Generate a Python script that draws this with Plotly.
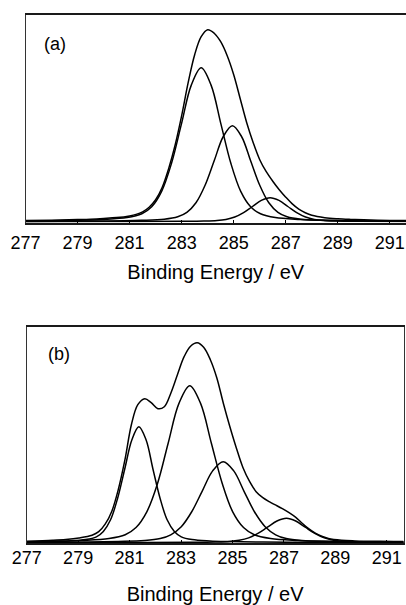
import plotly.graph_objects as go

# ---------------- Panel (a) ----------------
a_env_x = [277.0, 278.0, 279.0, 279.5, 280.0, 280.5,
           281.0, 281.25, 281.5, 281.75, 282.0, 282.25, 282.5, 282.75,
           283.0, 283.25, 283.5, 283.75, 284.0, 284.25, 284.5, 284.75,
           285.0, 285.25, 285.5, 285.75, 286.0, 286.25, 286.5, 286.75,
           287.0, 287.25, 287.5, 287.75, 288.0,
           288.5, 289.0, 289.5, 290.0, 291.0, 291.62]
a_env_y = [1.2, 1.5, 2.1, 2.5, 3.2, 4.1,
           5.8, 7.3, 9.9, 14.5, 22.0, 34.2, 53.1, 76.7,
           106.0, 139.0, 167.0, 185.0, 192.0, 188.5, 180.0, 166.0,
           147.0, 123.0, 99.0, 79.0, 62.0, 50.0, 40.5, 32.0,
           24.5, 17.8, 12.6, 9.0, 6.4,
           4.0, 2.9, 2.3, 1.9, 1.3, 1.2]

a_c1_x = [277.0, 279.0, 279.95, 280.9, 281.47, 281.85, 282.23, 282.61, 282.99, 283.37,
          283.75, 284.13, 284.51, 284.89, 285.27, 285.65, 286.03, 286.6, 287.55, 288.5,
          290.4, 291.62]
a_c1_y = [0.8, 1.5, 2.3, 4.1, 7.9, 14.9, 30.3, 58.4, 97.6, 136.6,
          154.0, 136.6, 97.6, 58.4, 30.3, 14.9, 7.9, 4.1, 2.3, 1.5,
          0.8, 0.6]

a_c2_x = [277.0, 279.7, 281.45, 282.33, 282.85, 283.2, 283.55, 283.9, 284.25, 284.6,
          284.95, 285.3, 285.65, 286.0, 286.35, 286.7, 287.05, 287.58, 288.45, 290.2,
          291.62]
a_c2_y = [0.3, 0.65, 1.4, 2.5, 4.9, 9.3, 18.9, 36.4, 60.9, 85.2,
          96.0, 85.2, 60.9, 36.4, 18.9, 9.3, 4.9, 2.5, 1.4, 0.65,
          0.4]

a_c3_x = [277.0, 281.3, 283.0, 283.85, 284.36, 284.7, 285.04, 285.38, 285.72, 286.06,
          286.4, 286.74, 287.08, 287.42, 287.76, 288.1, 288.44, 288.95, 289.8, 291.62]
a_c3_y = [0.05, 0.16, 0.35, 0.64, 1.2, 2.3, 4.7, 9.1, 15.2, 21.3,
          24.0, 21.3, 15.2, 9.1, 4.7, 2.3, 1.2, 0.64, 0.35, 0.16]

# ---------------- Panel (b) ----------------
b_env_x = [277.0, 278.01, 278.52, 279.03, 279.54,
           279.8, 280.05, 280.31, 280.56, 280.82,
           281.07, 281.32, 281.59, 281.84, 282.1, 282.35, 282.61, 282.86,
           283.12, 283.37, 283.63, 283.88, 284.14, 284.39, 284.65, 284.9,
           285.16, 285.41, 285.67, 285.92, 286.18, 286.43, 286.69, 286.94,
           287.2, 287.45, 287.71, 287.96, 288.22, 288.47, 288.73,
           289.24, 289.75, 290.26, 291.28, 291.66]
b_env_y = [1.5, 2.5, 3.3, 4.8, 7.5,
           11.0, 18.5, 31.5, 53.0, 83.0,
           118.0, 138.0, 144.0, 140.0, 134.0, 136.0, 150.0, 168.0,
           186.0, 196.5, 200.0, 195.5, 183.0, 165.0, 139.0, 116.0,
           94.0, 75.0, 61.0, 51.0, 45.0, 41.0, 37.5, 34.0,
           30.0, 25.5, 19.5, 14.0, 9.5, 6.5, 4.3,
           2.5, 1.8, 1.5, 1.2, 1.1]

b_c1_x = [277.0, 277.92, 278.61, 279.29, 279.71, 279.98, 280.26, 280.53, 280.81, 281.09,
          281.36, 281.64, 281.91, 282.19, 282.46, 282.74, 283.01, 283.43, 284.12, 284.8,
          286.18, 288.25, 291.66]
b_c1_y = [0.7, 1.1, 1.7, 3.1, 5.9, 11.3, 22.9, 44.0, 73.5, 102.9,
          116.0, 102.9, 73.5, 44.0, 22.9, 11.3, 5.9, 3.1, 1.7, 1.1,
          0.58, 0.29, 0.13]

b_c2_x = [277.0, 278.11, 279.16, 280.2, 280.83, 281.25, 281.67, 282.09, 282.5, 282.92,
          283.34, 283.76, 284.18, 284.6, 285.01, 285.43, 285.85, 286.48, 287.53, 288.57,
          290.66, 291.66]
b_c2_y = [1.05, 1.5, 2.3, 4.2, 8.0, 15.2, 30.9, 59.5, 99.5, 139.3,
          157.0, 139.3, 99.5, 59.5, 30.9, 15.2, 8.0, 4.2, 2.3, 1.5,
          0.8, 0.6]

b_c3_x = [277.0, 278.51, 280.56, 281.58, 282.19, 282.6, 283.01, 283.41, 283.82, 284.23,
          284.64, 285.05, 285.45, 285.86, 286.27, 286.68, 287.09, 287.7, 288.72, 290.76,
          291.66]
b_c3_y = [0.35, 0.55, 1.2, 2.1, 4.1, 7.9, 16.0, 30.7, 51.4, 71.8,
          81.0, 71.8, 51.4, 30.7, 16.0, 7.9, 4.1, 2.1, 1.2, 0.55,
          0.4]

b_c4_x = [277.0, 281.59, 283.42, 284.34, 284.89, 285.26, 285.63, 285.99, 286.36, 286.73,
          287.1, 287.46, 287.83, 288.2, 288.57, 288.93, 289.3, 289.85, 290.77, 291.66]
b_c4_y = [0.05, 0.17, 0.36, 0.65, 1.25, 2.4, 4.8, 9.3, 15.5, 21.7,
          24.5, 21.7, 15.5, 9.3, 4.8, 2.4, 1.25, 0.65, 0.36, 0.24]

tick_vals = [277, 279, 281, 283, 285, 287, 289, 291]
tick_text = ["277", "279", "281", "283", "285", "287", "289", "291"]
x_title = "Binding Energy / eV"
panel_labels = ["(a)", "(b)"]

FONT = "Liberation Sans, Arial, sans-serif"
W, H = 406, 605

fig = go.Figure()

def add_line(x, y, xa, ya):
    fig.add_trace(go.Scatter(
        x=x, y=y, mode="lines", xaxis=xa, yaxis=ya,
        line=dict(color="black", width=1.5, shape="spline", smoothing=1.0),
        showlegend=False, hoverinfo="skip"))

for xs, ys in [(a_env_x, a_env_y), (a_c1_x, a_c1_y), (a_c2_x, a_c2_y), (a_c3_x, a_c3_y)]:
    add_line(xs, ys, "x", "y")
for xs, ys in [(b_env_x, b_env_y), (b_c1_x, b_c1_y), (b_c2_x, b_c2_y),
               (b_c3_x, b_c3_y), (b_c4_x, b_c4_y)]:
    add_line(xs, ys, "x2", "y2")

def xaxis_cfg(domain, rng, anchor, label_standoff, title_standoff):
    return dict(
        domain=domain, range=rng, anchor=anchor, automargin=False,
        tickmode="array", tickvals=tick_vals, ticktext=tick_text,
        ticks="inside", ticklen=3, tickwidth=1, tickcolor="black",
        ticklabeloverflow="allow", ticklabelstandoff=label_standoff,
        showline=True, linecolor="#1a1a1a", linewidth=1.6, mirror=True,
        showgrid=False, zeroline=False,
        tickfont=dict(family=FONT, size=18, color="black"),
        title=dict(text=x_title, font=dict(family=FONT, size=20, color="black"),
                   standoff=title_standoff),
    )

def yaxis_cfg(domain, rng, anchor, mirror):
    return dict(
        domain=domain, range=rng, anchor=anchor, automargin=False,
        showline=True, linecolor="#333333", linewidth=1.4, mirror=mirror,
        showticklabels=False, ticks="", showgrid=False, zeroline=False,
    )

fig.update_layout(
    width=W, height=H,
    margin=dict(l=0, r=0, t=0, b=0, autoexpand=False),
    paper_bgcolor="white", plot_bgcolor="white",
    xaxis=xaxis_cfg([25.5 / W, 1.0], [277, 291.62], "y", 3, 13),
    yaxis=yaxis_cfg([(H - 222.5) / H, (H - 15) / H], [-0.8, 206.7], "x", False),
    xaxis2=xaxis_cfg([26.7 / W, 403.5 / W], [277, 291.65], "y2", -2, 25),
    yaxis2=yaxis_cfg([(H - 543) / H, (H - 327) / H], [-0.3, 215.7], "x2", True),
    annotations=[
        dict(text=panel_labels[0], x=42 / W, y=(H - 43.5) / H, xref="paper", yref="paper",
             xanchor="left", yanchor="middle", showarrow=False,
             font=dict(family=FONT, size=18, color="black")),
        dict(text=panel_labels[1], x=45.5 / W, y=(H - 354) / H, xref="paper", yref="paper",
             xanchor="left", yanchor="middle", showarrow=False,
             font=dict(family=FONT, size=18, color="black")),
    ],
)

fig.write_html("out.html")
